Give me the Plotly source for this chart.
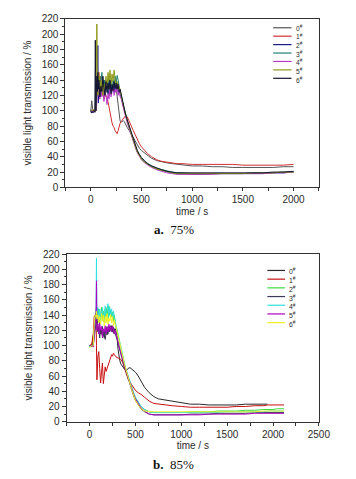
import plotly.graph_objects as go

# ---------------- chart a (75%) ----------------
t_a = [0, 10, 20, 30, 40, 45, 50, 55, 60, 65, 70, 75, 80, 90, 100,
       110, 120, 130, 140, 150, 160, 170, 180, 190, 200, 210, 220, 230, 240, 250,
       260, 270, 280, 290, 300, 310, 320, 330, 340, 360, 380, 400, 420, 440, 460,
       480, 500, 530, 560, 600, 650, 700, 750, 800, 850, 900, 1000, 1100, 1200, 1300,
       1400, 1500, 1600, 1700, 1800, 1900, 2000]

a0 = [100, 113, 101, 99, 100, 102, 110, 140, 135, 125, 140, 130, 120, 135, 125,
      130, 120, 138, 125, 132, 128, 135, 120, 130, 126, 132, 128, 136, 124, 130,
      118, 105, 90, 86, 85, 86, 87, 86, 83, 78, 74, 69, 64, 60, 55,
      51, 48, 45, 41, 38, 35, 33, 32, 31, 30, 29, 28, 28, 27, 27,
      26, 26, 26, 26, 26, 27, 27]
a1 = [100, 99, 100, 101, 100, 100, 105, 125, 140, 130, 145, 130, 150, 125, 135,
      120, 128, 115, 125, 118, 118, 112, 105, 95, 88, 84, 80, 78, 74, 71,
      70, 74, 80, 84, 86, 88, 90, 92, 93, 92, 87, 80, 74, 68, 62,
      57, 53, 48, 44, 40, 36, 34, 33, 32, 31, 31, 30, 30, 30, 30,
      30, 29, 29, 29, 29, 29, 30]
a2 = [98, 100, 97, 99, 100, 99, 100, 101, 120, 150, 185, 110, 140, 130, 145,
      125, 135, 118, 140, 128, 132, 122, 138, 126, 134, 128, 135, 124, 132, 128,
      134, 126, 125, 122, 118, 112, 106, 100, 95, 86, 78, 69, 60, 53, 46,
      41, 37, 33, 30, 27, 24, 22, 20, 19, 18, 18, 17, 17, 18, 18,
      18, 18, 18, 18, 19, 19, 20]
a3 = [100, 101, 99, 100, 98, 100, 145, 110, 130, 120, 140, 125, 145, 120, 138,
      150, 128, 140, 122, 135, 140, 126, 142, 130, 138, 125, 140, 132, 145, 135,
      146, 140, 128, 124, 119, 113, 107, 101, 96, 87, 79, 70, 61, 54, 47,
      42, 38, 34, 31, 28, 25, 23, 21, 20, 19, 19, 18, 18, 18, 18,
      18, 18, 19, 19, 19, 20, 20]
a4 = [99, 100, 98, 100, 99, 100, 101, 100, 115, 130, 120, 135, 125, 115, 128,
      118, 130, 112, 125, 120, 108, 122, 115, 128, 118, 125, 132, 120, 128, 124,
      130, 120, 126, 118, 116, 110, 104, 98, 93, 84, 76, 67, 59, 52, 45,
      40, 36, 32, 29, 26, 23, 21, 19, 18, 17, 17, 17, 17, 17, 18,
      18, 18, 18, 18, 19, 19, 20]
a5 = [100, 99, 101, 100, 100, 99, 100, 150, 213, 140, 120, 150, 130, 145, 125,
      140, 120, 135, 128, 145, 130, 150, 138, 153, 135, 148, 138, 153, 140, 132,
      138, 128, 132, 124, 120, 114, 108, 102, 96, 87, 78, 69, 61, 53, 46,
      41, 37, 33, 30, 27, 24, 22, 20, 19, 18, 18, 18, 18, 18, 18,
      18, 18, 19, 19, 19, 20, 20]
a6 = [100, 97, 99, 100, 98, 192, 100, 130, 145, 125, 150, 128, 140, 118, 132,
      125, 145, 130, 120, 138, 124, 136, 128, 140, 122, 134, 126, 138, 130, 136,
      128, 135, 124, 128, 121, 115, 109, 103, 97, 88, 80, 71, 62, 55, 48,
      43, 39, 35, 31, 28, 25, 23, 21, 20, 19, 19, 19, 19, 19, 19,
      19, 19, 19, 19, 20, 20, 21]

# ---------------- chart b (85%) ----------------
t_b = [0, 10, 20, 30, 40, 50, 60, 70, 75, 80, 90, 100, 110, 120, 130,
       140, 150, 160, 170, 180, 190, 200, 210, 220, 230, 240, 250, 260, 270, 280,
       290, 300, 310, 320, 330, 340, 360, 380, 400, 420, 440, 460, 480, 500, 530,
       560, 600, 650, 700, 750, 800, 850, 900, 1000, 1100, 1200, 1300, 1400, 1500, 1600,
       1700, 1800, 1900, 1940, 2000, 2050, 2120]

b0 = [100, 100, 101, 100, 112, 135, 140, 138, 150, 145, 125, 118, 122, 115, 120,
      112, 118, 110, 116, 120, 114, 122, 118, 125, 120, 126, 118, 124, 120, 122,
      118, 110, 95, 86, 80, 76, 72, 69, 67, 70, 71, 69, 67, 65, 60,
      53, 45, 38, 33, 30, 29, 28, 27, 25, 23, 23, 22, 22, 22, 22,
      23, 23, 23, 23, None, None, None]
b1 = [100, 101, 100, 112, 115, 138, 140, 142, 100, 55, 85, 92, 70, 51, 65,
      77, 50, 62, 72, 66, 70, 74, 78, 82, 85, 88, 86, 90, 88, 86,
      85, 84, 84, 83, 82, 82, 78, 70, 62, 56, 52, 48, 44, 41, 38,
      36, 32, 27, 24, 23, 22, 21, 21, 20, 19, 19, 19, 19, 19, 20,
      20, 21, 21, 22, 22, 22, 22]
b2 = [98, 100, 99, 100, 101, 120, 135, 140, 130, 145, 132, 148, 128, 140, 150,
      135, 145, 130, 148, 138, 150, 135, 152, 140, 146, 138, 144, 132, 140, 128,
      124, 119, 113, 107, 101, 95, 85, 75, 67, 59, 51, 44, 37, 31, 25,
      20, 16, 13, 12, 12, 12, 12, 12, 12, 13, 13, 13, 14, 14, 14,
      15, 15, 16, 16, 16, 17, 17]
b3 = [100, 99, 100, 98, 100, 110, 125, 130, 150, 125, 118, 125, 110, 122, 115,
      125, 112, 120, 108, 118, 125, 115, 122, 118, 126, 120, 124, 116, 122, 115,
      112, 108, 103, 98, 93, 88, 80, 72, 64, 56, 48, 41, 34, 28, 22,
      17, 13, 10, 9, 9, 9, 9, 9, 9, 10, 10, 10, 11, 11, 11,
      11, 12, 12, 12, 12, 12, 12]
b4 = [100, 98, 100, 99, 100, 125, 138, 140, 215, 140, 150, 135, 148, 130, 142,
      150, 138, 132, 152, 140, 145, 155, 138, 150, 142, 148, 135, 145, 138, 130,
      126, 121, 115, 109, 103, 97, 87, 77, 68, 60, 52, 45, 38, 32, 25,
      20, 16, 13, 12, 12, 12, 12, 12, 12, 12, 12, 12, 12, 13, 13,
      13, 13, 13, 14, 14, 14, 14]
b5 = [100, 100, 99, 100, 98, 115, 130, 135, 185, 120, 128, 115, 130, 120, 125,
      110, 122, 118, 126, 115, 124, 118, 128, 120, 125, 118, 126, 122, 115, 120,
      114, 110, 105, 100, 95, 90, 82, 74, 66, 58, 50, 43, 36, 30, 24,
      18, 14, 10, 9, 9, 9, 9, 9, 9, 9, 9, 10, 10, 10, 10,
      10, 11, 11, 11, 11, 11, 11]
b6 = [97, 98, 100, 99, 100, 130, 140, 138, 145, 135, 140, 130, 138, 128, 142,
      132, 140, 126, 138, 130, 142, 128, 136, 132, 140, 130, 138, 126, 134, 128,
      124, 120, 114, 108, 102, 96, 86, 76, 67, 58, 50, 42, 35, 28, 22,
      17, 14, 13, 13, 13, 13, 13, 13, 13, 13, 13, 13, 13, 13, 13,
      13, 13, 14, 14, 14, 14, 14]

labels = ["0", "1", "2", "3", "4", "5", "6"]
colors_a = ["#555555", "#d03030", "#1c1c8a", "#1f8070", "#b83cc8", "#8f9a18", "#141432"]
colors_b = ["#2a2a2a", "#c81010", "#3ed83e", "#3a3a5a", "#2ee0e0", "#b000c0", "#f0f020"]

series_a = [a0, a1, a2, a3, a4, a5, a6]
series_b = [b0, b1, b2, b3, b4, b5, b6]

W, H = 356, 479
fig = go.Figure()

for lab, col, vals in zip(labels, colors_a, series_a):
    fig.add_trace(go.Scatter(x=t_a, y=vals, mode="lines", name=lab + "#",
                             line=dict(color=col, width=1), xaxis="x", yaxis="y",
                             showlegend=False, connectgaps=False, hoverinfo="skip"))
for lab, col, vals in zip(labels, colors_b, series_b):
    fig.add_trace(go.Scatter(x=t_b, y=vals, mode="lines", name=lab + "#",
                             line=dict(color=col, width=1), xaxis="x2", yaxis="y2",
                             showlegend=False, connectgaps=False, hoverinfo="skip"))

font_axis = dict(family="Liberation Sans, Arial, sans-serif", size=10, color="#2a2a2a")

def xaxis_cfg(dom, rng, anchor):
    return dict(domain=dom, range=rng, anchor=anchor, tickmode="linear", tick0=0, dtick=500,
                ticks="outside", ticklen=3, tickwidth=1, tickcolor="#333",
                minor=dict(dtick=250, tick0=0, ticks="outside", ticklen=3, tickcolor="#333"),
                showline=True, linecolor="#333", linewidth=1, mirror=True,
                showgrid=False, zeroline=False, tickfont=font_axis,
                title=dict(text="time / s", font=font_axis, standoff=3))

def yaxis_cfg(dom, anchor):
    return dict(domain=dom, range=[0, 220], anchor=anchor, tickmode="linear", tick0=0, dtick=20,
                ticks="outside", ticklen=4, tickwidth=1, tickcolor="#333",
                minor=dict(dtick=10, tick0=0, ticks="outside", ticklen=2, tickcolor="#333"),
                showline=True, linecolor="#333", linewidth=1, mirror=True,
                showgrid=False, zeroline=False, tickfont=font_axis,
                title=dict(text="visible light transmission / %", font=font_axis, standoff=8))

fig.update_layout(
    width=W, height=H,
    margin=dict(l=0, r=0, t=0, b=0),
    paper_bgcolor="white", plot_bgcolor="white",
    xaxis=xaxis_cfg([67.7 / W, 330 / W], [-250, 2250], "y"),
    yaxis=yaxis_cfg([1 - 186.7 / H, 1 - 14 / H], "x"),
    xaxis2=xaxis_cfg([69 / W, 330 / W], [-250, 2500], "y2"),
    yaxis2=yaxis_cfg([1 - 426.5 / H, 1 - 255 / H], "x2"),
    showlegend=False,
    hovermode=False,
)

# compact legends: sample lines + one multi-line label block per chart
shapes = []
annotations = []
legend_specs = [
    (colors_a, 282.7, 301.7, 304, 23.3, 8.62),
    (colors_b, 276.7, 295.0, 297, 271.7, 8.9),
]
for cols, lx0, lx1, tx, y0, dy in legend_specs:
    for i, col in enumerate(cols):
        yy = 1 - (y0 + i * dy) / H
        shapes.append(dict(type="line", xref="paper", yref="paper",
                           x0=lx0 / W, x1=lx1 / W, y0=yy, y1=yy,
                           line=dict(color=col, width=1.2)))
    block = "<br>".join(lab + "<sup>#</sup>" for lab in labels)
    annotations.append(dict(xref="paper", yref="paper", x=tx / W,
                            y=1 - (y0 + 3 * dy + 0.6) / H,
                            text=block, showarrow=False, align="left",
                            xanchor="left", yanchor="middle",
                            font=dict(family="Liberation Sans, Arial, sans-serif",
                                      size=dy / 1.3, color="#2a2a2a")))

caption_font = dict(family="Liberation Serif, Times New Roman, serif", size=13, color="#111")
annotations.append(dict(xref="paper", yref="paper", x=180 / W, y=1 - 230 / H,
                        text="<b>a.</b>  75%", showarrow=False, xanchor="center",
                        yanchor="middle", font=caption_font))
annotations.append(dict(xref="paper", yref="paper", x=180 / W, y=1 - 470 / H,
                        text="<b>b.</b>  85%", showarrow=False, xanchor="center",
                        yanchor="middle", font=caption_font))

fig.update_layout(shapes=shapes, annotations=annotations)

fig.write_html("out.html", config={"displayModeBar": False, "staticPlot": True},
               post_script="document.body.style.margin='0';document.body.style.overflow='hidden';")
